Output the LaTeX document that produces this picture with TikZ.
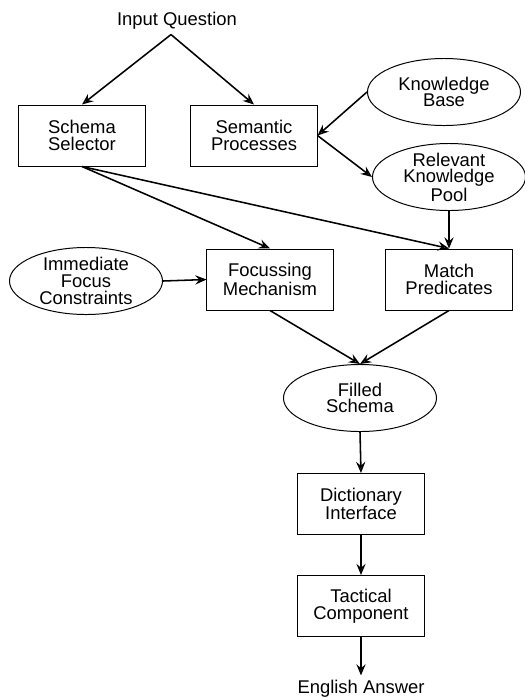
\documentclass[tikz,border=0pt]{standalone}
\usepackage{fontspec}
\setmainfont{Liberation Sans}
\usetikzlibrary{arrows.meta,shapes.geometric}

\tikzset{proc/.style={main, rectangle, minimum width=3.15cm, minimum height=1.525cm}}
\tikzset{store/.style={main, ellipse, minimum width=3.825cm, minimum height=1.675cm, inner xsep=0pt, inner ysep=-2pt}}
\tikzset{flow/.style={-{Stealth[open, length=2.8mm, width=2.3mm, inset=1mm]}, line width=1.1pt}}

\begin{document}
\begin{tikzpicture}[x=0.025cm, y=-0.025cm, txt/.style={align=center, font=\fontsize{13.1}{11.8}\selectfont}, main/.style={txt, draw, line width=0.7pt}]
    \useasboundingbox (0,0) rectangle (525,700);

    \node[txt] (iq) at (177,21) {Input Question};

    \node[proc] (ss) at (82,135.5) {Schema\\Selector};
    \node[proc] (sp) at (254,135.5) {Semantic\\Processes};
    \node[store] (kb) at (444,92) {Knowledge\\Base};
    \node[store] (rkp) at (449,177) {Relevant\\Knowledge\\Pool};

    \node[store] (ifc) at (86,281) {Immediate\\Focus\\Constraints};
    \node[proc] (fm) at (270,279.5) {Focussing\\Mechanism};
    \node[proc] (mp) at (449,279.5) {Match\\Predicates};

    \node[store] (fs) at (360,398) {Filled\\Schema};
    \node[proc] (di) at (361,504) {Dictionary\\Interface};
    \node[proc] (tc) at (361,606) {Tactical\\Component};
    \node[txt] (ea) at (361,689) {English Answer};

    \draw[flow] ([xshift=-0.15cm]iq.south) -- (ss.north);
    \draw[flow] ([xshift=-0.15cm]iq.south) -- (sp.north);
    \draw[flow] (kb.west) -- (sp.east);
    \draw[flow] (sp.east) -- (rkp.west);
    \draw[flow] (ss.south) -- (fm.north);
    \draw[flow] (ss.south) -- (mp.north);
    \draw[flow] (rkp.south) -- (mp.north);
    \draw[flow] (ifc.east) -- (fm.west);
    \draw[flow] (fm.south) -- (fs.north);
    \draw[flow] (mp.south) -- (fs.north);
    \draw[flow] (fs.south) -- (di.north);
    \draw[flow] (di.south) -- (tc.north);
    \draw[flow] (tc.south) -- (ea.north);
\end{tikzpicture}
\end{document}
